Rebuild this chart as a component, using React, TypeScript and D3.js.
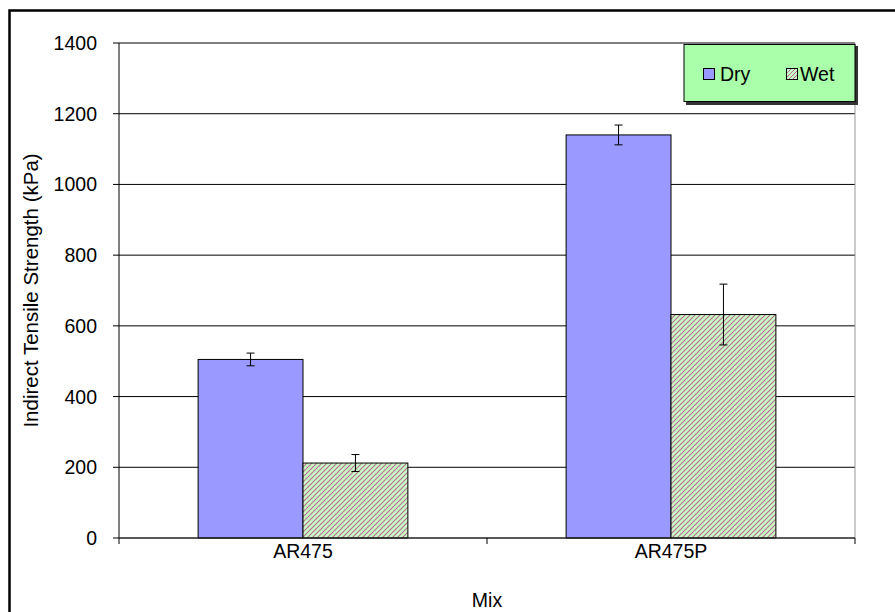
import React from "react";
import * as d3 from "d3";

const categories = ["AR475", "AR475P"];
const seriesNames = ["Dry", "Wet"];
const dryValues = [505, 1140];
const wetValues = [212, 632];
const dryErrors = [18, 28];
const wetErrors = [24, 86];
const yTicks = [0, 200, 400, 600, 800, 1000, 1200, 1400];

const W = 895;
const H = 612;
const margin = { left: 119, right: 40, top: 43, bottom: 74 };
const FONT = "'Liberation Sans', Arial, sans-serif";
const FS = 19.5;

export default function App() {
  const x0 = d3
    .scaleBand<string>()
    .domain(categories)
    .range([margin.left, W - margin.right])
    .paddingInner(0)
    .paddingOuter(0);
  const bw = x0.bandwidth();
  const x1 = d3
    .scaleBand<string>()
    .domain(seriesNames)
    .range([bw * 0.215, bw * 0.785]);
  const y = d3.scaleLinear().domain([0, 1400]).range([H - margin.bottom, margin.top]);

  const series = [
    { name: "Dry", values: dryValues, errors: dryErrors, fill: "#9999ff" },
    { name: "Wet", values: wetValues, errors: wetErrors, fill: "url(#hatch)" },
  ];
  const left = margin.left;
  const right = W - margin.right;
  const bottom = y(0);
  const top = y(1400);

  return (
    <svg
      width={W}
      height={H}
      style={{ position: "absolute", left: 0, top: 0, background: "#fff" }}
      fontFamily={FONT}
    >
      <defs>
        <pattern id="hatch" patternUnits="userSpaceOnUse" width="5" height="5">
          <rect width="5" height="5" fill="#c8ffc8" />
          <path d="M-1,1 l2,-2 M0,5 l5,-5 M4,6 l2,-2" stroke="#b8688c" strokeWidth="1.1" />
        </pattern>
        <pattern id="hatchSmall" patternUnits="userSpaceOnUse" width="4" height="4">
          <rect width="4" height="4" fill="#c8ffc8" />
          <path d="M-1,1 l2,-2 M0,4 l4,-4 M3,5 l2,-2" stroke="#b8688c" strokeWidth="1" />
        </pattern>
      </defs>
      {/* outer border */}
      <rect x={9.5} y={10.5} width={W + 10} height={H + 10} fill="none" stroke="#000" strokeWidth={2.5} />

      {/* gridlines */}
      {yTicks.slice(1).map((t) => (
        <line key={t} x1={left} x2={right} y1={y(t)} y2={y(t)} stroke="#000" strokeWidth={1} />
      ))}
      {/* plot right border */}
      <line x1={right} x2={right} y1={top} y2={bottom} stroke="#999" strokeWidth={1} />

      {/* bars */}
      {series.map((s) =>
        categories.map((c, i) => {
          const bx = (x0(c) as number) + (x1(s.name) as number);
          const v = s.values[i];
          return (
            <rect
              key={s.name + c}
              x={bx}
              y={y(v)}
              width={x1.bandwidth()}
              height={bottom - y(v)}
              fill={s.fill}
              stroke="#000"
              strokeWidth={1}
            />
          );
        })
      )}
      {/* error bars */}
      {series.map((s) =>
        categories.map((c, i) => {
          const cx = (x0(c) as number) + (x1(s.name) as number) + x1.bandwidth() / 2;
          const v = s.values[i];
          const e = s.errors[i];
          return (
            <g key={"e" + s.name + c} stroke="#000" strokeWidth={1}>
              <line x1={cx} x2={cx} y1={y(v + e)} y2={y(v - e)} />
              <line x1={cx - 4} x2={cx + 4} y1={y(v + e)} y2={y(v + e)} />
              <line x1={cx - 4} x2={cx + 4} y1={y(v - e)} y2={y(v - e)} />
            </g>
          );
        })
      )}

      {/* y axis */}
      <line x1={left} x2={left} y1={top} y2={bottom} stroke="#000" strokeWidth={1} />
      {yTicks.map((t) => (
        <g key={"yt" + t}>
          <line x1={left - 6} x2={left} y1={y(t)} y2={y(t)} stroke="#000" />
          <text x={97} y={y(t)} dy="0.36em" textAnchor="end" fontSize={FS} fill="#000">
            {t}
          </text>
        </g>
      ))}
      {/* x axis */}
      <line x1={left} x2={right} y1={bottom} y2={bottom} stroke="#222" strokeWidth={1.5} />
      {[left, left + bw, right].map((tx, i) => (
        <line key={"xt" + i} x1={tx} x2={tx} y1={bottom} y2={bottom + 6} stroke="#000" />
      ))}
      {categories.map((c) => (
        <text
          key={"xl" + c}
          x={(x0(c) as number) + bw / 2}
          y={558}
          textAnchor="middle"
          fontSize={FS}
          fill="#000"
        >
          {c}
        </text>
      ))}
      <text x={(left + right) / 2} y={607} textAnchor="middle" fontSize={FS} fill="#000">
        Mix
      </text>
      <text
        transform={`translate(38, ${(top + bottom) / 2}) rotate(-90)`}
        textAnchor="middle"
        fontSize={20.5}
        fill="#000"
      >
        Indirect Tensile Strength (kPa)
      </text>

      {/* legend */}
      <rect x={686} y={46} width={172} height={59} fill="#333" />
      <rect x={684} y={44.5} width={171} height={57} fill="#aaffaa" stroke="#000" strokeWidth={1} />
      <rect x={703.5} y={68.5} width={11} height={11} fill="#9999ff" stroke="#000" strokeWidth={1} />
      <text x={720} y={81} fontSize={FS} fill="#000">
        Dry
      </text>
      <rect x={786.5} y={68.5} width={11} height={11} fill="url(#hatchSmall)" stroke="#000" strokeWidth={1} />
      <text x={800} y={81} fontSize={FS} fill="#000">
        Wet
      </text>
    </svg>
  );
}
